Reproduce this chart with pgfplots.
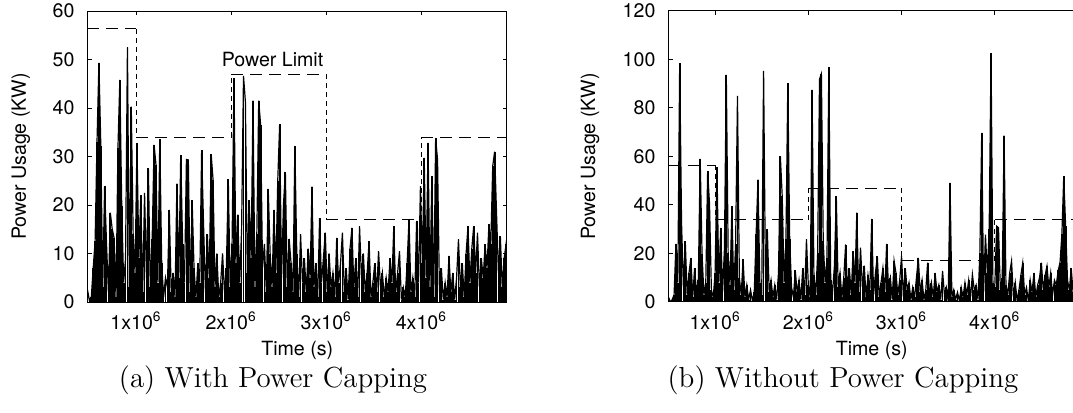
\documentclass[border=0pt]{standalone}
\usepackage{fontspec}
\usepackage{pgfplots}
\usepackage{pgfplotstable}
\pgfplotsset{compat=1.18}
\newfontfamily\hv{TeX Gyre Heros}
\newcommand\sfs{\hv\fontsize{9.8}{11}\selectfont}

% power usage, with capping (time in 10^6 s, power in KW)
\pgfplotstableread[row sep=\\]{
x y \\
0.49 2.5\\ 0.51 0.3\\ 0.53 1\\ 0.55 7\\ 0.57 12.5\\ 0.59 33\\ 0.61 49.3\\ 0.63 32.2\\ 0.65 3\\ 0.67 23.9\\
0.69 12\\ 0.71 2\\ 0.73 18.4\\ 0.75 15\\ 0.77 13.2\\ 0.79 1\\ 0.81 31.7\\ 0.83 45.8\\ 0.85 19.7\\ 0.87 4\\
0.89 9\\ 0.91 52.5\\ 0.93 3\\ 0.95 40.3\\ 0.97 14\\ 0.99 6\\ 1.01 32.7\\ 1.03 9\\ 1.05 22\\ 1.07 2\\
1.09 22.5\\ 1.11 5\\ 1.13 27.6\\ 1.15 3\\ 1.17 13\\ 1.19 32.4\\ 1.21 28.3\\ 1.23 4\\ 1.25 33.6\\ 1.27 8\\
1.29 1\\ 1.31 5\\ 1.33 3\\ 1.35 19\\ 1.37 2\\ 1.39 6\\ 1.41 1\\ 1.43 24.4\\ 1.45 5\\ 1.47 30.3\\
1.49 12\\ 1.51 4\\ 1.53 29.4\\ 1.55 29.3\\ 1.57 2\\ 1.59 21\\ 1.61 7\\ 1.63 1\\ 1.65 8\\ 1.67 4\\
1.69 31.3\\ 1.71 16\\ 1.73 2\\ 1.75 14\\ 1.77 5\\ 1.79 30.5\\ 1.81 25.2\\ 1.83 3\\ 1.85 10\\ 1.87 1\\
1.89 4\\ 1.91 10\\ 1.93 2\\ 1.95 7\\ 1.97 25.3\\ 1.99 3\\ 2.01 12\\ 2.03 46.1\\ 2.05 8\\ 2.07 18\\
2.09 4\\ 2.11 15\\ 2.13 46.6\\ 2.15 41.3\\ 2.17 6\\ 2.19 21\\ 2.21 9\\ 2.23 41.5\\ 2.25 3\\ 2.27 14\\
2.29 41.5\\ 2.31 36.5\\ 2.33 7\\ 2.35 12\\ 2.37 2\\ 2.39 23.3\\ 2.41 10\\ 2.43 3\\ 2.45 19\\ 2.47 6\\
2.49 25\\ 2.51 36.6\\ 2.53 5\\ 2.55 20\\ 2.57 26.8\\ 2.59 3\\ 2.61 13\\ 2.63 8\\ 2.65 2\\ 2.67 32.1\\
2.69 10\\ 2.71 1\\ 2.73 14\\ 2.75 4\\ 2.77 9\\ 2.79 2\\ 2.81 11\\ 2.83 5\\ 2.85 23.8\\ 2.87 3\\
2.89 8\\ 2.91 1\\ 2.93 17.3\\ 2.95 4\\ 2.97 9\\ 2.99 14.3\\ 3.01 2\\ 3.03 10\\ 3.05 3\\ 3.07 6\\
3.09 1\\ 3.11 13.2\\ 3.13 4\\ 3.15 8\\ 3.17 14.3\\ 3.19 2\\ 3.21 7\\ 3.23 0.5\\ 3.25 11\\ 3.27 15.3\\
3.29 3\\ 3.31 9\\ 3.33 1\\ 3.35 15.6\\ 3.37 5\\ 3.39 10\\ 3.41 2\\ 3.43 6\\ 3.45 12.5\\ 3.47 1\\
3.49 4\\ 3.51 8\\ 3.53 2\\ 3.55 10.5\\ 3.57 3\\ 3.59 6\\ 3.61 1\\ 3.63 5\\ 3.65 2\\ 3.67 9\\
3.69 4\\ 3.71 15.6\\ 3.73 2\\ 3.75 6\\ 3.77 10.5\\ 3.79 0.5\\ 3.81 3\\ 3.83 1\\ 3.85 8\\ 3.87 17\\
3.89 2\\ 3.91 5\\ 3.93 1\\ 3.95 16.7\\ 3.97 4\\ 3.99 23.9\\ 4.01 8\\ 4.03 29.7\\ 4.05 5\\ 4.07 32.8\\
4.09 3\\ 4.11 25.9\\ 4.13 1\\ 4.15 33.8\\ 4.17 29.3\\ 4.19 2\\ 4.21 7\\ 4.23 0.5\\ 4.25 4\\ 4.27 1\\
4.29 9.5\\ 4.31 2\\ 4.33 6\\ 4.35 0.5\\ 4.37 5\\ 4.39 12.9\\ 4.41 3\\ 4.43 8\\ 4.45 1\\ 4.47 10\\
4.49 15.6\\ 4.51 4\\ 4.53 11\\ 4.55 15.6\\ 4.57 6\\ 4.59 14.3\\ 4.61 3\\ 4.63 9\\ 4.65 5\\ 4.67 11.9\\
4.69 7\\ 4.71 16\\ 4.73 12\\ 4.75 28\\ 4.77 31\\ 4.79 18.4\\ 4.81 6\\ 4.83 13.6\\ 4.85 3\\ 4.87 9\\
4.89 11.9\\ 4.91 7\\
}\capped

% power usage, without capping
\pgfplotstableread[row sep=\\]{
x y \\
0.50 2\\ 0.52 0\\ 0.54 1\\ 0.56 3\\ 0.58 24\\ 0.60 8\\ 0.62 98.5\\ 0.64 32.6\\ 0.66 6\\ 0.68 25\\
0.70 3\\ 0.72 12\\ 0.74 18.2\\ 0.76 2\\ 0.78 14\\ 0.80 4\\ 0.82 9\\ 0.84 59\\ 0.86 19.6\\ 0.88 3\\
0.90 8\\ 0.92 53.9\\ 0.94 40.5\\ 0.96 5\\ 0.98 2\\ 1.00 12\\ 1.02 55.5\\ 1.04 8\\ 1.06 30.6\\ 1.08 4\\
1.10 22\\ 1.12 93.7\\ 1.14 20\\ 1.16 7\\ 1.18 39.5\\ 1.20 5\\ 1.22 24\\ 1.24 85\\ 1.26 10\\ 1.28 3\\
1.30 17.6\\ 1.32 2\\ 1.34 7\\ 1.36 1\\ 1.38 5\\ 1.40 0.5\\ 1.42 4\\ 1.44 28\\ 1.46 50.5\\ 1.48 8\\
1.50 3\\ 1.52 95.3\\ 1.54 10\\ 1.56 29.9\\ 1.58 4\\ 1.60 9\\ 1.62 2\\ 1.64 7\\ 1.66 1\\ 1.68 12\\
1.70 60\\ 1.72 43.6\\ 1.74 8\\ 1.76 25.8\\ 1.78 90.2\\ 1.80 25.8\\ 1.82 6\\ 1.84 2\\ 1.86 13\\ 1.88 4\\
1.90 9\\ 1.92 1\\ 1.94 14\\ 1.96 3\\ 1.98 25.8\\ 2.00 7\\ 2.02 2\\ 2.04 87.5\\ 2.06 11\\ 2.08 3\\
2.10 20\\ 2.12 91.9\\ 2.14 94.1\\ 2.16 25\\ 2.18 8\\ 2.20 18\\ 2.22 96.8\\ 2.24 9\\ 2.26 4\\ 2.28 15\\
2.30 43.6\\ 2.32 6\\ 2.34 12\\ 2.36 2\\ 2.38 10\\ 2.40 23.7\\ 2.42 5\\ 2.44 14\\ 2.46 3\\ 2.48 21\\
2.50 8\\ 2.52 36.8\\ 2.54 4\\ 2.56 22.4\\ 2.58 6\\ 2.60 15\\ 2.62 2\\ 2.64 11\\ 2.66 5\\ 2.68 34.3\\
2.70 3\\ 2.72 12\\ 2.74 18.9\\ 2.76 2\\ 2.78 8\\ 2.80 14\\ 2.82 4\\ 2.84 24\\ 2.86 6\\ 2.88 10\\
2.90 1\\ 2.92 17\\ 2.94 12\\ 2.96 3\\ 2.98 9\\ 3.00 18.9\\ 3.02 2\\ 3.04 14\\ 3.06 5\\ 3.08 8\\
3.10 1\\ 3.12 6\\ 3.14 2\\ 3.16 10\\ 3.18 18.2\\ 3.20 4\\ 3.22 9\\ 3.24 1\\ 3.26 5\\ 3.28 16.2\\
3.30 3\\ 3.32 8\\ 3.34 2\\ 3.36 12\\ 3.38 4\\ 3.40 7\\ 3.42 1\\ 3.44 12.8\\ 3.46 3\\ 3.48 6\\
3.50 0.5\\ 3.52 49.1\\ 3.54 2\\ 3.56 5\\ 3.58 1\\ 3.60 4\\ 3.62 0.5\\ 3.64 6\\ 3.66 2\\ 3.68 8\\
3.70 3\\ 3.72 9\\ 3.74 2\\ 3.76 11.4\\ 3.78 5\\ 3.80 7\\ 3.82 1\\ 3.84 20\\ 3.86 69.7\\ 3.88 4\\
3.90 27.8\\ 3.92 12\\ 3.94 29.9\\ 3.96 102.6\\ 3.98 8\\ 4.00 6\\ 4.02 31.3\\ 4.04 30.6\\ 4.06 5\\ 4.08 10\\
4.10 68.6\\ 4.12 7\\ 4.14 3\\ 4.16 12\\ 4.18 16.9\\ 4.20 2\\ 4.22 8\\ 4.24 0.5\\ 4.26 5\\ 4.28 11\\
4.30 16.2\\ 4.32 3\\ 4.34 6\\ 4.36 0.5\\ 4.38 9\\ 4.40 4\\ 4.42 12\\ 4.44 2\\ 4.46 7\\ 4.48 10\\
4.50 16.2\\ 4.52 5\\ 4.54 11\\ 4.56 14.8\\ 4.58 6\\ 4.60 12\\ 4.62 3\\ 4.64 9\\ 4.66 7\\ 4.68 13\\
4.70 16.2\\ 4.72 28\\ 4.74 51.8\\ 4.76 31.3\\ 4.78 9\\ 4.80 5\\ 4.82 14\\ 4.84 4\\ 4.86 11\\ 4.88 6\\
4.90 9\\ 4.92 3\\ 4.94 8\\ 4.96 2\\ 4.98 6\\ 5.00 4\\
}\uncapped

\pgfplotsset{
  powerax/.style={
    scale only axis, width=209.75pt, height=145.5pt,
    ymin=0,
    xtick={1,2,3,4},
    xticklabels={1x10\textsuperscript{6},2x10\textsuperscript{6},3x10\textsuperscript{6},4x10\textsuperscript{6}},
    tick align=inside, major tick length=2.2pt,
    axis line style={line width=0.5pt}, tick style={line width=0.5pt, black},
    tick label style={font=\sfs},
    /pgf/number format/assume math mode=true,
    yticklabel style={xshift=-3pt},
    xticklabel style={yshift=-1.5pt},
    clip=true,
  },
  usage/.style={black, line width=0.6pt},
  spikes/.style={ycomb, black, line width=0.9pt},
  hlim/.style={black, line width=0.5pt, dash pattern=on 6pt off 3.5pt},
  vlim/.style={black, line width=0.5pt, dash pattern=on 2.5pt off 2pt},
}

\begin{document}
\begin{tikzpicture}
\useasboundingbox (-43.75pt,-55.5pt) rectangle (492.75pt,151pt);

% (a) with power capping
\begin{axis}[powerax, at={(0pt,0pt)}, anchor=south west,
  xmin=0.49, xmax=4.9, ymax=60, ytick={0,10,...,60},
  xlabel={Time (s)}, ylabel={Power Usage (KW)},
  every axis x label/.style={at={(axis description cs:0.5,-0.165)}, anchor=center, font=\sfs},
  every axis y label/.style={at={(axis description cs:-0.159,0.5)}, rotate=90, anchor=center, font=\sfs}]
\addplot[spikes] table {\capped};
\addplot[usage] table {\capped};
% power limit
\addplot[hlim] coordinates {(0.49,56.3) (1,56.3)};
\addplot[hlim] coordinates {(1,34) (2,34)};
\addplot[hlim] coordinates {(2,47) (3,47)};
\addplot[hlim] coordinates {(3,17) (4,17)};
\addplot[hlim] coordinates {(4,34) (4.9,34)};
\addplot[vlim] coordinates {(1,56.3) (1,34)};
\addplot[vlim] coordinates {(2,34) (2,47)};
\addplot[vlim] coordinates {(3,47) (3,17)};
\addplot[vlim] coordinates {(4,17) (4,34)};
\node[font=\sfs, anchor=center] at (axis cs:2.435,49.9) {Power Limit};
\end{axis}

% (b) without power capping
\begin{axis}[powerax, at={(290.5pt,0pt)}, anchor=south west,
  xmin=0.5, xmax=5.0, ymax=120, ytick={0,20,...,120},
  xlabel={Time (s)}, ylabel={Power Usage (KW)},
  every axis x label/.style={at={(axis description cs:0.4845,-0.165)}, anchor=center, font=\sfs},
  every axis y label/.style={at={(axis description cs:-0.187,0.5)}, rotate=90, anchor=center, font=\sfs}]
\addplot[spikes] table {\uncapped};
\addplot[usage] table {\uncapped};
\addplot[hlim] coordinates {(0.5,56.3) (1,56.3)};
\addplot[hlim] coordinates {(1,34) (2,34)};
\addplot[hlim] coordinates {(2,47) (3,47)};
\addplot[hlim] coordinates {(3,17) (4,17)};
\addplot[hlim] coordinates {(4,34) (5,34)};
\addplot[vlim] coordinates {(1,56.3) (1,34)};
\addplot[vlim] coordinates {(2,34) (2,47)};
\addplot[vlim] coordinates {(3,47) (3,17)};
\addplot[vlim] coordinates {(4,17) (4,34)};
\end{axis}

% captions
\node[anchor=base, font=\fontsize{14.5}{17}\selectfont] at (92.75pt,-42.5pt) {(a) With Power Capping};
\node[anchor=base, font=\fontsize{14.5}{17}\selectfont] at (377.75pt,-42.5pt) {(b) Without Power Capping};
\end{tikzpicture}
\end{document}
